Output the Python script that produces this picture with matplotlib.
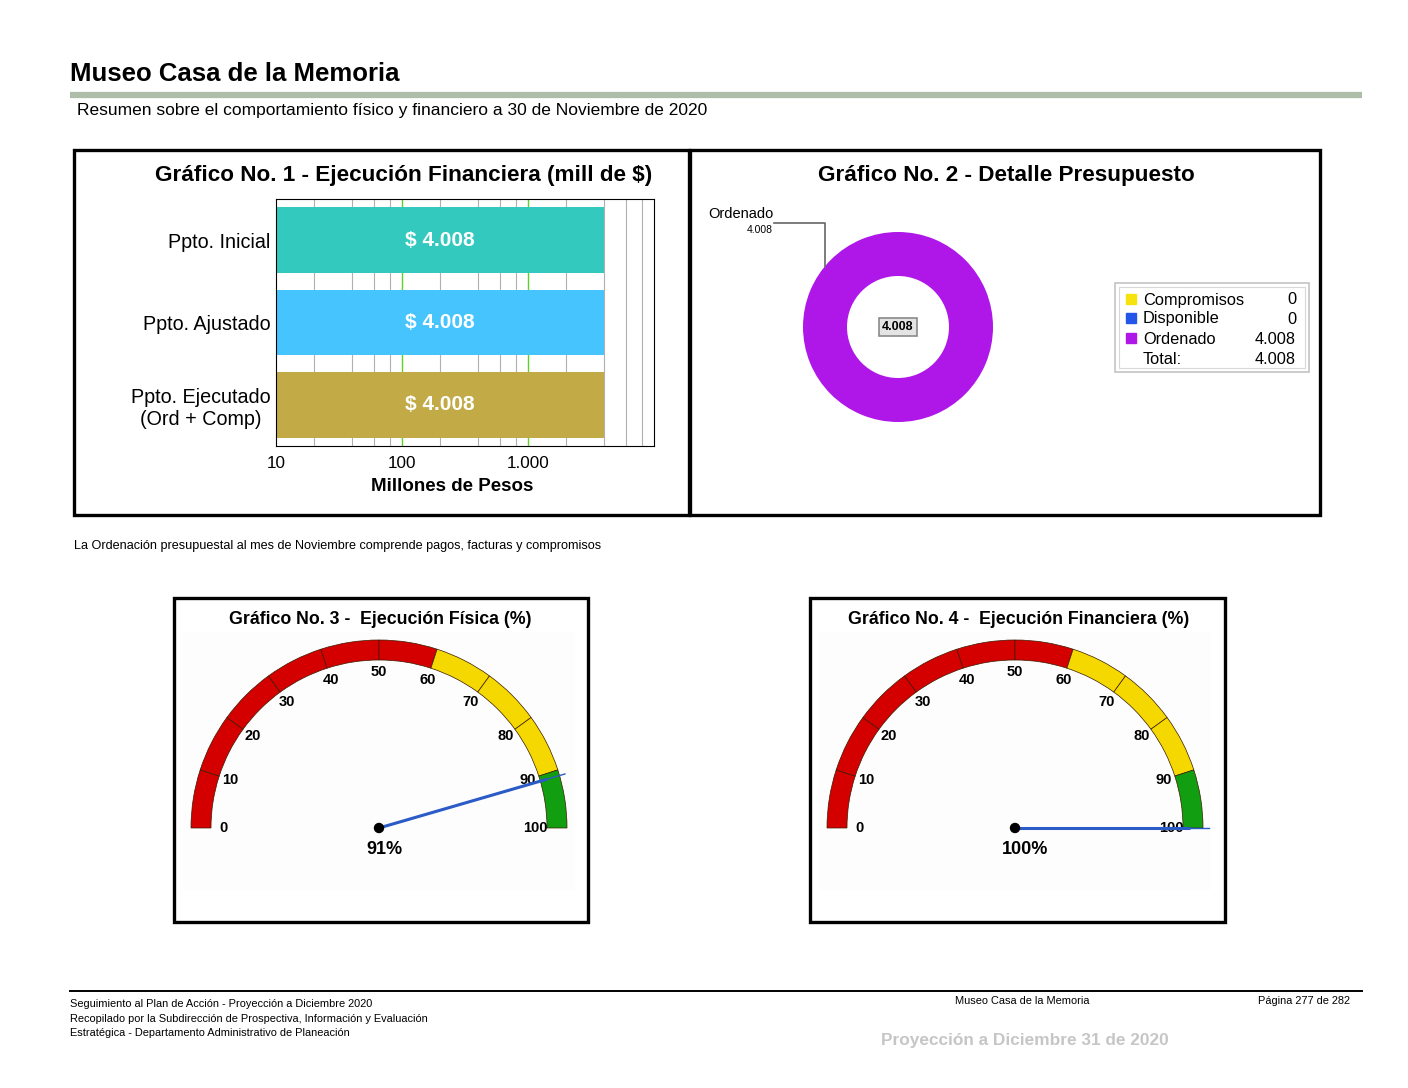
import matplotlib
matplotlib.use("Agg")
import matplotlib.pyplot as plt
import numpy as np
from matplotlib.patches import Rectangle, Wedge, Circle
from matplotlib.ticker import FixedLocator, FuncFormatter, NullFormatter

plt.rcParams['font.family'] = ['Liberation Sans', 'DejaVu Sans']

# ---------------- data ----------------
bar_categories = ["Ppto. Inicial", "Ppto. Ajustado", "Ppto. Ejecutado\n(Ord + Comp)"]
bar_values = [4008, 4008, 4008]
bar_colors = ["#33c9be", "#45c4fe", "#c2aa47"]
bar_xticks = [10, 100, 1000]

donut_categories = ["Compromisos", "Disponible", "Ordenado"]
donut_values = [0, 0, 4008]
donut_colors = ["#f7e20c", "#2356e8", "#ae17e8"]
donut_total = 4008

gauge_titles = ["Gráfico No. 3 -  Ejecución Física (%)",
                "Gráfico No. 4 -  Ejecución Financiera (%)"]
gauge_values = [91, 100]
gauge_bands = [(0, 60, "#d40000"), (60, 90, "#f4d800"), (90, 100, "#119e11")]
gauge_ticks = [0, 10, 20, 30, 40, 50, 60, 70, 80, 90, 100]

W, H = 1408, 1088
fig = plt.figure(figsize=(W / 100, H / 100), dpi=100)


def box(x0, y0, x1, y1):
    return [x0 / W, 1 - y1 / H, (x1 - x0) / W, (y1 - y0) / H]


def fmt_num(v):
    return f"{v:,.0f}".replace(",", ".")


# page layer
page = fig.add_axes([0, 0, 1, 1])
page.set_xlim(0, W)
page.set_ylim(H, 0)
page.axis("off")

page.text(70, 74, "Museo Casa de la Memoria", fontsize=18.5, fontweight="bold",
          va="center", ha="left")
page.plot([70, 1362], [95, 95], color="#aebcaa", lw=4.5, solid_capstyle="butt")
page.text(77, 110, "Resumen sobre el comportamiento físico y financiero a 30 de Noviembre de 2020",
          fontsize=12.5, va="center", ha="left")

# panel borders
for (x0, y0, x1, y1) in [(74, 150, 689, 515), (690, 150, 1320, 515),
                         (174, 598, 588, 922), (810, 598, 1225, 922)]:
    page.add_patch(Rectangle((x0, y0), x1 - x0, y1 - y0, fill=False, ec="black", lw=2.4))

page.text(404, 176, "Gráfico No. 1 - Ejecución Financiera (mill de $)", fontsize=16.2,
          fontweight="bold", ha="center", va="center")
page.text(1006, 176, "Gráfico No. 2 - Detalle Presupuesto", fontsize=16.2,
          fontweight="bold", ha="center", va="center")

page.text(74, 546, "La Ordenación presupuestal al mes de Noviembre comprende pagos, facturas y compromisos",
          fontsize=9.1, ha="left", va="center")

# ---------------- bar chart ----------------
axb = fig.add_axes(box(276, 199, 654, 446))
ypos = np.arange(len(bar_categories))
axb.barh(ypos, bar_values, height=0.8, color=bar_colors, left=0, zorder=2)
axb.set_xscale("log")
axb.set_xlim(10, 10000)
axb.set_ylim(2.5, -0.5)
axb.set_axisbelow(True)
minor = [m * 10 ** e for e in range(1, 4) for m in (2, 4, 6, 8)]
for v in minor:
    axb.axvline(v, color="#b0b0b0", lw=0.8, zorder=0)
for v in [100, 1000]:
    axb.axvline(v, color="#5fd22a", lw=1.0, zorder=0)
axb.xaxis.set_major_locator(FixedLocator(bar_xticks))
axb.xaxis.set_minor_locator(FixedLocator([]))
axb.xaxis.set_minor_formatter(NullFormatter())
axb.xaxis.set_major_formatter(FuncFormatter(lambda v, p: fmt_num(v)))
axb.tick_params(axis="x", length=0, labelsize=12.3, pad=7)
axb.set_yticks(ypos)
axb.set_yticklabels(bar_categories, fontsize=14.2, multialignment="center")
axb.tick_params(axis="y", length=0, pad=4)
axb.set_xlabel("Millones de Pesos", fontsize=13.5, fontweight="bold", labelpad=4)
axb.xaxis.set_label_coords((452 - 276) / 378, -0.13)
for s in axb.spines.values():
    s.set_linewidth(0.8)
for i, v in enumerate(bar_values):
    axb.text(np.sqrt(10 * v), i, "$ " + fmt_num(v), color="white", fontsize=15,
             fontweight="bold", ha="center", va="center", zorder=3)

# ---------------- donut ----------------
R_px = 95
cx, cy = 898, 327
axd = fig.add_axes(box(cx - 100, cy - 100, cx + 100, cy + 100))
axd.pie(donut_values, colors=donut_colors, radius=1, startangle=90, counterclock=False,
        wedgeprops=dict(width=(95 - 51) / 95, linewidth=0))
axd.set_xlim(-100 / R_px, 100 / R_px)
axd.set_ylim(-100 / R_px, 100 / R_px)
axd.set_aspect("equal")
axd.axis("off")
axd.text(0, 0, fmt_num(donut_total), fontsize=9, fontweight="bold", ha="center", va="center",
         bbox=dict(boxstyle="square,pad=0.25", fc="#e4e4e4", ec="#8a8a8a", lw=1.2))
ang = np.deg2rad(140.6)
ax_pt = (np.cos(ang), np.sin(ang))
ly = (cy - 223) / R_px
lx_end = (774 - cx) / R_px
axd.plot([ax_pt[0], ax_pt[0], lx_end], [ax_pt[1], ly, ly], color="#666666", lw=1.2,
         clip_on=False)
idx = int(np.argmax(donut_values))
axd.text(lx_end, ly + 0.02, donut_categories[idx], fontsize=10.5, ha="right", va="bottom",
         clip_on=False)
axd.text(lx_end - 0.01, ly - 0.02, fmt_num(donut_values[idx]), fontsize=7.5, ha="right",
         va="top", clip_on=False)

# legend
page.add_patch(Rectangle((1115, 283), 194, 89, fill=False, ec="#c4c4c4", lw=1.2))
page.add_patch(Rectangle((1119, 287), 186, 81, fill=False, ec="#d8d8d8", lw=0.8))
rows_y = [299, 318, 338]
for yv, name, val, col in zip(rows_y, donut_categories, donut_values, donut_colors):
    page.add_patch(Rectangle((1126, yv - 5), 10, 10, color=col))
    page.text(1143, yv + 1, name, fontsize=11.8, ha="left", va="center")
    page.text(1296, yv + 1, fmt_num(val), fontsize=11.8, ha="right", va="center")
page.text(1143, 360, "Total:", fontsize=11.8, ha="left", va="center")
page.text(1296, 360, fmt_num(donut_total), fontsize=11.8, ha="right", va="center")

# ---------------- gauges ----------------
gauge_centers = [(379, 828), (1015, 828)]
panel_centers_x = [380, 1019]
GR = 188.0


def theta(v):
    return 180 - 1.8 * v


for (gx, gy), title, val, tx in zip(gauge_centers, gauge_titles, gauge_values, panel_centers_x):
    page.add_patch(Rectangle((gx - 196, 632), 392, 258, color="#fdfdfd", lw=0))
    page.text(tx, 620, title, fontsize=12.8, fontweight="bold", ha="center", va="center")
    ag = fig.add_axes(box(gx - 200, gy - 200, gx + 200, gy + 60))
    ag.set_xlim(-200 / GR, 200 / GR)
    ag.set_ylim(-60 / GR, 200 / GR)
    ag.axis("off")
    for v0, v1, col in gauge_bands:
        for s in range(v0, v1, 10):
            ag.add_patch(Wedge((0, 0), 1.0, theta(s + 10), theta(s), width=20 / GR,
                               fc=col, ec="#3a1a00", lw=0.5))
    for t in gauge_ticks:
        a = np.deg2rad(theta(t))
        rr = 156 / GR
        ag.text(rr * np.cos(a), rr * np.sin(a), str(t), fontsize=10.5, fontweight="bold",
                ha="center", va="center")
    a = np.deg2rad(theta(val))
    ag.plot([0, 0.93 * np.cos(a)], [0, 0.93 * np.sin(a)], color="#2a5bc6", lw=2.2,
            solid_capstyle="butt", zorder=4)
    ag.plot([0, 1.03 * np.cos(a)], [0, 1.03 * np.sin(a)], color="#2a5bc6", lw=1.0, zorder=4)
    ag.add_patch(Circle((0, 0), 4.5 / GR, color="black", zorder=5))
    ag.text(-13 / GR, -22 / GR, f"{val}%", fontsize=13, fontweight="bold", ha="left",
            va="center")

# ---------------- footer ----------------
page.plot([70, 1362], [991, 991], color="black", lw=1.4)
foot = ["Seguimiento al Plan de Acción - Proyección a Diciembre 2020",
        "Recopilado por la Subdirección de Prospectiva, Información y Evaluación",
        "Estratégica - Departamento Administrativo de Planeación"]
for i, line in enumerate(foot):
    page.text(70, 1004 + 14.5 * i, line, fontsize=7.9, ha="left", va="center")
page.text(1022, 1001, "Museo Casa de la Memoria", fontsize=7.9, ha="center", va="center")
page.text(1350, 1001, "Página 277 de 282", fontsize=7.9, ha="right", va="center")
page.text(1025, 1041, "Proyección a Diciembre 31 de 2020", fontsize=12.4, fontweight="bold",
          color="#c6c6c6", ha="center", va="center")

fig.savefig("out.png", dpi=100)
